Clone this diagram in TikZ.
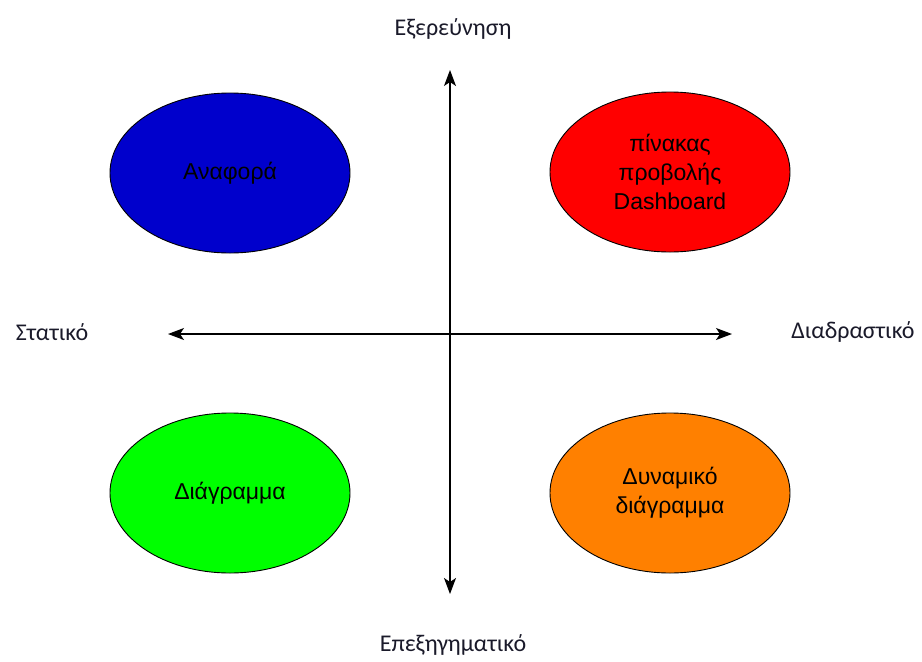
\documentclass[tikz,border=0pt]{standalone}
\usepackage{fontspec}
\setmainfont{Liberation Sans}
\newfontfamily\lblfont{Carlito}
\usetikzlibrary{shapes.geometric,arrows.meta}
\definecolor{lblcol}{HTML}{1A1A2A}
\begin{document}
\begin{tikzpicture}[x=1pt,y=-1pt,
  blob/.style={ellipse,draw=black,line width=0.9pt,minimum width=240pt,minimum height=160pt,inner sep=0pt,align=center,font=\fontsize{23}{29}\selectfont},
  axislbl/.style={font=\lblfont\fontsize{24}{28}\selectfont,text=lblcol,inner sep=0pt},
  axis/.style={line width=1.2pt,{Stealth[length=16pt,width=12pt,inset=4pt]}-{Stealth[length=16pt,width=12pt,inset=4pt]}}]
\useasboundingbox (0,0) rectangle (922,662);
\node[blob,fill={rgb,255:red,0;green,0;blue,204}] (rep) at (230,173) {Αναφορά};
\node[blob,fill={rgb,255:red,255;green,0;blue,0}] (dash) at (670,172) {πίνακας\\προβολής\\Dashboard};
\node[blob,fill={rgb,255:red,0;green,255;blue,0}] (chart) at (230,493) {Διάγραμμα};
\node[blob,fill={rgb,255:red,255;green,128;blue,0}] (dyn) at (670,493) {Δυναμικό\\διάγραμμα};
\coordinate (top) at (450,70);
\coordinate (bot) at (450,594);
\coordinate (lft) at (168,334);
\coordinate (rgt) at (732,334);
\draw[axis] (top) -- (bot);
\draw[axis] (lft) -- (rgt);
\node[axislbl] (exp) at (453,29) {Εξερεύνηση};
\node[axislbl] (expl) at (453,645) {Επεξηγηματικό};
\node[axislbl] (stat) at (52,332) {Στατικό};
\node[axislbl] (inter) at (853,332) {Διαδραστικό};
\end{tikzpicture}
\end{document}
